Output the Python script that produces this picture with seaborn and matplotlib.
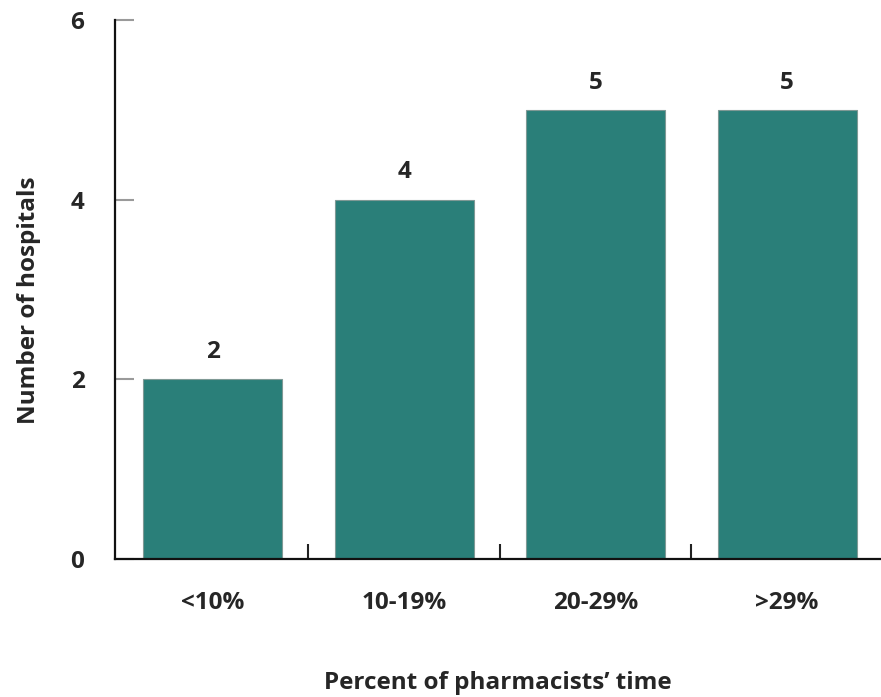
import matplotlib
matplotlib.use("Agg")
import matplotlib.pyplot as plt
import seaborn as sns
import pandas as pd

categories = ["<10%", "10-19%", "20-29%", ">29%"]
hospitals = [2, 4, 5, 5]
y_ticks = [0, 2, 4, 6]

sns.set_theme(style="ticks")
plt.rcParams["font.family"] = ["Open Sans", "DejaVu Sans"]

FS = 17.5
df = pd.DataFrame({"category": categories, "count": hospitals})

W, H = 881, 697
left, right, bottom, top = 115, 881, 559, 20
fig = plt.figure(figsize=(W / 100, H / 100), dpi=100)
ax = fig.add_axes([left / W, 1 - bottom / H, (right - left) / W, (bottom - top) / H])

sns.barplot(data=df, x="category", y="count", order=categories, color="#2a7f79",
            saturation=1, width=0.726, edgecolor="#7f9995", linewidth=0.8, ax=ax)

ax.set_xlim(-0.509, 3.49)
ax.set_ylim(0, 6)
ax.set_yticks(y_ticks)
ax.set_yticklabels([str(t) for t in y_ticks], fontsize=FS, fontweight="bold")

# category labels sit under the bars, tick marks sit between them
ax.set_xticks(range(len(categories)))
ax.set_xticklabels(categories, fontsize=FS, fontweight="bold")
ax.tick_params(axis="x", which="major", length=0, pad=23)
ax.set_xticks([0.5, 1.5, 2.5], minor=True)
ax.tick_params(axis="x", which="minor", direction="in", length=11, width=1.5, color="#222222")
ax.xaxis.get_minor_ticks()[2].tick1line.set_color("#9a9a9a")
ax.tick_params(axis="y", direction="in", length=14, width=1.5, color="#9a9a9a", pad=22)

for spine in ["top", "right"]:
    ax.spines[spine].set_visible(False)
for spine in ["left", "bottom"]:
    ax.spines[spine].set_linewidth(1.6)
    ax.spines[spine].set_color("#111111")

# top tick of the y axis is drawn dark
ax.yaxis.get_major_ticks()[-1].tick1line.set_color("#111111")

for i, v in enumerate(hospitals):
    ax.annotate(str(v), (i, v), xytext=(0, 11), textcoords="offset points",
                ha="center", va="bottom", fontsize=FS, fontweight="bold")

ax.set_xlabel("Percent of pharmacists\u2019 time", fontsize=FS, fontweight="bold")
ax.xaxis.set_label_coords(0.5, -0.208)
ax.set_ylabel("Number of hospitals", fontsize=FS, fontweight="bold")
ax.yaxis.set_label_coords(-0.097, 0.48)

fig.savefig("out.png", dpi=100)
